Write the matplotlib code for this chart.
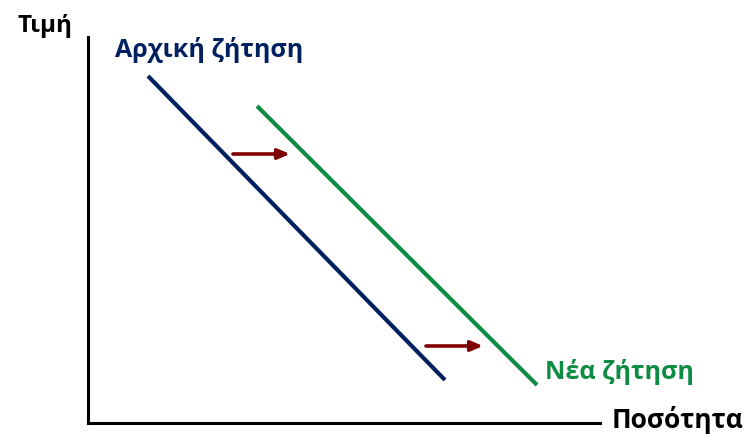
import matplotlib.pyplot as plt

plt.rcParams['font.family'] = ['Open Sans', 'DejaVu Sans']

# demand curves (quantity, price)
initial_q = [60, 357]
initial_p = [347, 43]
new_q = [169, 449]
new_p = [317, 38]

# shift arrows: (start quantity, end quantity, price)
shift_start = [145, 338]
shift_end = [202, 395]
shift_price = [269, 77]

navy = '#002060'
green = '#0E8C43'
arrow_red = '#7F0000'

fig = plt.figure(figsize=(7.46, 4.35), dpi=100)
ax = fig.add_axes([88 / 746, 11 / 435, 512 / 746, 386 / 435])
ax.set_xlim(0, 512)
ax.set_ylim(0, 386)

ax.plot(initial_q, initial_p, color=navy, lw=3, solid_capstyle='butt')
ax.plot(new_q, new_p, color=green, lw=3, solid_capstyle='butt')

for x0, x1, y in zip(shift_start, shift_end, shift_price):
    ax.annotate('', xy=(x1, y), xytext=(x0, y),
                arrowprops=dict(arrowstyle='-|>,head_length=0.7,head_width=0.3',
                                color=arrow_red, lw=2.6, shrinkA=0, shrinkB=0))

ax.text(27, 374, 'Αρχική ζήτηση', color=navy, fontsize=18, fontweight='bold',
        ha='left', va='center', clip_on=False)
ax.text(457, 52, 'Νέα ζήτηση', color=green, fontsize=18, fontweight='bold',
        ha='left', va='center', clip_on=False)

for side in ['top', 'right']:
    ax.spines[side].set_visible(False)
for side in ['left', 'bottom']:
    ax.spines[side].set_linewidth(2.2)
    ax.spines[side].set_color('black')
ax.set_xticks([])
ax.set_yticks([])

fig.text(17 / 746, 1 - 26 / 435, 'Τιμή', fontsize=17.5, fontweight='bold',
         ha='left', va='center')
fig.text(743 / 746, 1 - 420 / 435, 'Ποσότητα', fontsize=19, fontweight='bold',
         ha='right', va='center')

fig.savefig('out.png', dpi=100)
